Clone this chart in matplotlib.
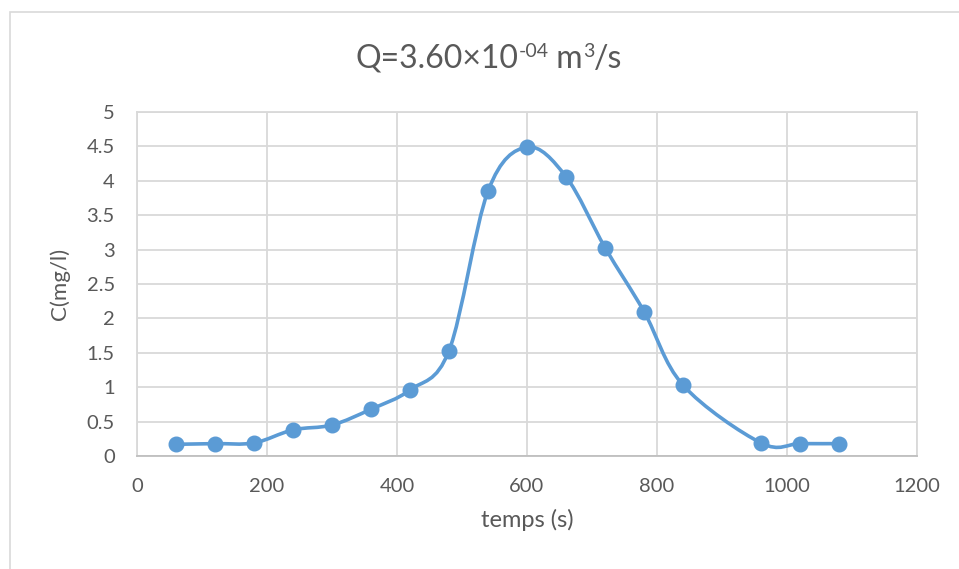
import matplotlib
matplotlib.use("Agg")
import matplotlib.pyplot as plt
from matplotlib.path import Path
from matplotlib.patches import PathPatch, Rectangle
import numpy as np

plt.rcParams['font.family'] = ['Lato', 'DejaVu Sans']

temps = [60, 120, 180, 240, 300, 360, 420, 480, 540, 600, 660, 720, 780, 840, 960, 1020, 1080]
conc = [0.17, 0.18, 0.19, 0.38, 0.45, 0.68, 0.96, 1.53, 3.85, 4.49, 4.06, 3.03, 2.10, 1.03, 0.19, 0.18, 0.18]
x_ticks = [0, 200, 400, 600, 800, 1000, 1200]
y_ticks = [0, 0.5, 1, 1.5, 2, 2.5, 3, 3.5, 4, 4.5, 5]
y_labels = ['0', '0.5', '1', '1.5', '2', '2.5', '3', '3.5', '4', '4.5', '5']
title_parts = [('Q=3.60×10', False), ('-04', True), (' m', False), ('3', True), ('/s', False)]

line_color = '#5B9BD5'
text_color = '#595959'
grid_color = '#D9D9D9'

W, H = 959, 569
fig = plt.figure(figsize=(W / 100, H / 100), dpi=100)
fig.patch.set_facecolor('white')

# chart-area border (only left/top visible)
fig.add_artist(Rectangle((10 / W, -0.1), 1.2, 1 - 12 / H + 0.1, transform=fig.transFigure,
                         fill=False, edgecolor=grid_color, linewidth=1.2))

ax = fig.add_axes([137 / W, 1 - 456 / H, (917 - 137) / W, (456 - 112) / H])
ax.set_xlim(0, 1200)
ax.set_ylim(0, 5)
ax.set_xticks(x_ticks)
ax.set_yticks(y_ticks)
ax.set_yticklabels(y_labels)
ax.grid(True, color=grid_color, linewidth=1.3)
ax.set_axisbelow(True)
for s in ax.spines.values():
    s.set_color(grid_color)
    s.set_linewidth(1.3)
ax.spines['bottom'].set_color('#BFBFBF')
ax.tick_params(length=0, colors=text_color, labelsize=14.5)
ax.tick_params(axis='y', pad=16)
ax.tick_params(axis='x', pad=16)

# Excel-style smoothed line via cubic Bezier segments
x = np.array(temps, dtype=float)
y = np.array(conc, dtype=float)
pts = np.column_stack([x, y])
verts = [pts[0]]
codes = [Path.MOVETO]
n = len(pts)
for i in range(n - 1):
    p0 = pts[i - 1] if i > 0 else pts[i]
    p1 = pts[i]
    p2 = pts[i + 1]
    p3 = pts[i + 2] if i + 2 < n else pts[i + 1]
    c1 = p1 + (p2 - p0) / 6.0
    c2 = p2 - (p3 - p1) / 6.0
    verts += [c1, c2, p2]
    codes += [Path.CURVE4] * 3
path = Path(verts, codes)
ax.add_patch(PathPatch(path, facecolor='none', edgecolor=line_color, linewidth=2.6,
                       capstyle='round', joinstyle='round', zorder=3))
ax.plot(temps, conc, linestyle='none', marker='o', markersize=10.5, color=line_color, zorder=4)

ax.set_xlabel('temps (s)', fontsize=17, color=text_color, labelpad=10)
ax.set_ylabel('C(mg/l)', fontsize=16, color=text_color, labelpad=12)

# Title built from pieces (plain hyphen in exponent, as in the reference)
renderer = fig.canvas.get_renderer()
main_size, sup_size = 23, 14
texts = []
for s, sup in title_parts:
    t = fig.text(0, 0, s, fontsize=sup_size if sup else main_size, color=text_color,
                 ha='left', va='baseline')
    texts.append((t, sup))
widths = [t.get_window_extent(renderer).width for t, _ in texts]
total = sum(widths)
x0 = 489 - total / 2
base = H - 68
for (t, sup), w in zip(texts, widths):
    yy = base + (11 if sup else 0)
    t.set_position((x0 / W, yy / H))
    x0 += w

fig.savefig('out.png', dpi=100, facecolor='white')
